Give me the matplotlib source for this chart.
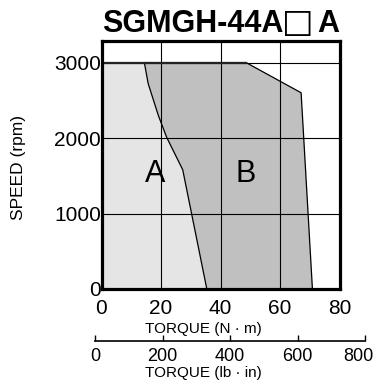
import matplotlib
matplotlib.use("Agg")
import matplotlib.pyplot as plt
from matplotlib.transforms import ScaledTranslation

plt.rcParams['font.family'] = ['Liberation Sans', 'DejaVu Sans']

# Data
title_parts = ["SGMGH-44A", "\u25a1", "A"]
boundary_torque = [14.4, 15.7, 19.1, 21.9, 27.3, 35.4]   # A/B boundary (N·m)
boundary_speed = [3000, 2720, 2300, 2010, 1580, 0]        # rpm
outer_torque = [14.4, 48.6, 67.1, 70.9]                   # B outer limit (N·m)
outer_speed = [3000, 3000, 2600, 0]
x_ticks = [0, 20, 40, 60, 80]
y_ticks = [0, 1000, 2000, 3000]
lbin_ticks = [0, 200, 400, 600, 800]
labels = {"A": (17.9, 1520), "B": (48.6, 1520)}

W, H = 380, 386
fig = plt.figure(figsize=(W / 100, H / 100), dpi=100)
ax = fig.add_axes([101.5 / W, (H - 289) / H, 238 / W, (289 - 40.7) / H])

# Region A
a_x = [0] + boundary_torque + [0]
a_y = [3000] + boundary_speed + [0]
ax.fill(a_x, a_y, color='#e5e5e5', zorder=1, lw=0)
# Region B
b_x = outer_torque + boundary_torque[::-1]
b_y = outer_speed + boundary_speed[::-1]
ax.fill(b_x, b_y, color='#c0c0c0', zorder=1, lw=0)
ax.plot(boundary_torque, boundary_speed, color='black', lw=0.9, zorder=3)
ax.plot(outer_torque, outer_speed, color='black', lw=0.9, zorder=3)
ax.plot([0, outer_torque[1]], [3000, 3000], color='#222222', lw=1.6, zorder=3)

ax.set_xlim(0, 80)
ax.set_ylim(0, 3290)
ax.set_xticks(x_ticks)
ax.set_yticks(y_ticks)
ax.grid(True, color='black', lw=0.8, zorder=2)
ax.set_axisbelow(False)
for s in ax.spines.values():
    s.set_linewidth(2.3)
    s.set_zorder(4)
ax.tick_params(axis='both', length=0, labelsize=15)
ax.tick_params(axis='x', pad=7)
ax.tick_params(axis='y', pad=0.5)

for k, (tx, sy) in labels.items():
    ax.text(tx, sy, k, fontsize=22, ha='center', va='center', zorder=5)

# Secondary torque axis (lb·in)
ax2 = fig.add_axes([95 / W, (H - 341) / H, 270 / W, 0.0001])
ax2.set_xlim(0, 800)
ax2.set_xticks(lbin_ticks)
ax2.set_yticks([])
ax2.patch.set_alpha(0)
for k in ['top', 'left', 'right']:
    ax2.spines[k].set_visible(False)
ax2.spines['bottom'].set_linewidth(1.2)
ax2.tick_params(axis='x', direction='in', length=4, width=1, labelsize=13, pad=5)
fig.canvas.draw()
last = ax2.get_xticklabels()[-1]
last.set_transform(last.get_transform() + ScaledTranslation(-0.07, 0, fig.dpi_scale_trans))

yb = (H - 31.7) / H
fig.text(283 / W, yb, title_parts[0], fontsize=22, fontweight='bold',
         ha='right', va='baseline')
fig.text(297.5 / W, yb, title_parts[1], fontsize=24, fontweight='bold',
         family='DejaVu Sans', ha='center', va='baseline')
fig.text(317.7 / W, yb, title_parts[2], fontsize=22, fontweight='bold',
         ha='left', va='baseline')
fig.text(19 / W, (H - 167) / H, "SPEED (rpm)", fontsize=12.5, rotation=90,
         ha='center', va='center')
fig.text(203 / W, (H - 333) / H, "TORQUE (N \u00b7 m)", fontsize=11,
         ha='center', va='baseline')
fig.text(203 / W, (H - 377) / H, "TORQUE (lb \u00b7 in)", fontsize=11,
         ha='center', va='baseline')

fig.savefig("out.png", dpi=100)
